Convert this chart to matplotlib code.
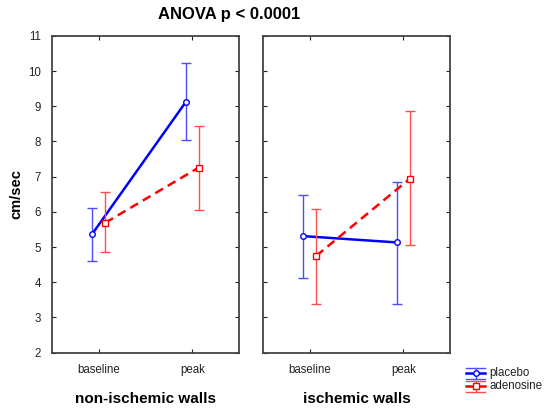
import matplotlib
matplotlib.use("Agg")
import matplotlib.pyplot as plt
import numpy as np

# group means and error bar limits (cm/sec)
phases = ["baseline", "peak"]
walls = ["non-ischemic walls", "ischemic walls"]

placebo_mean = [[5.37, 9.12], [5.31, 5.13]]
placebo_lo = [[4.60, 8.03], [4.12, 3.38]]
placebo_hi = [[6.10, 10.24], [6.48, 6.86]]

adeno_mean = [[5.69, 7.26], [4.75, 6.94]]
adeno_lo = [[4.86, 6.05], [3.39, 5.06]]
adeno_hi = [[6.57, 8.45], [6.09, 8.86]]

plt.rcParams['font.family'] = ['Liberation Sans', 'DejaVu Sans']

fig = plt.figure(figsize=(5.44, 4.11), dpi=100)
W, H = 544, 411
boxes = [(52, 36, 187, 316.5), (263, 36, 187, 316.5)]

blue, red = '#0000ff', '#ff0000'
blue_e, red_e = (0.3, 0.3, 1.0), (1.0, 0.3, 0.3)

x = np.arange(len(phases))
off = 0.07
axes = []
for k, (px, py, pw, ph) in enumerate(boxes):
    ax = fig.add_axes([px / W, 1 - (py + ph) / H, pw / W, ph / H])
    axes.append(ax)
    m = np.array(placebo_mean[k])
    ax.errorbar(x - off, m, yerr=[m - np.array(placebo_lo[k]), np.array(placebo_hi[k]) - m],
                fmt='none', ecolor=blue_e, elinewidth=1, capsize=3.3, capthick=1)
    ax.plot(x - off, m, '-', color=blue, lw=1.8, marker='o', ms=4,
            mfc='white', mec=blue, mew=1, label='placebo')
    a = np.array(adeno_mean[k])
    ax.errorbar(x + off, a, yerr=[a - np.array(adeno_lo[k]), np.array(adeno_hi[k]) - a],
                fmt='none', ecolor=red_e, elinewidth=1, capsize=3.3, capthick=1)
    ax.plot(x + off, a, '--', color=red, lw=1.8, marker='s', ms=4,
            mfc='white', mec=red, mew=1, dashes=(3.6, 2.2), label='adenosine')

    ax.set_xlim(-0.5, 1.5)
    ax.set_ylim(2, 11)
    ax.set_xticks(x)
    ax.set_xticklabels(phases)
    ax.set_yticks(range(2, 12))
    ax.tick_params(direction='in', top=True, right=True, length=3, width=0.8,
                   labelsize=8.3, colors='#222222', pad=8)
    for s in ax.spines.values():
        s.set_color('#444444')
        s.set_linewidth(1.3)
    ax.set_xlabel(walls[k], fontsize=11, fontweight='bold', labelpad=12)

axes[1].tick_params(labelleft=False)
axes[0].set_ylabel("cm/sec", fontsize=10.5, fontweight='bold', labelpad=3)

fig.text(229 / W, 1 - 15 / H, "ANOVA p < 0.0001", ha='center', va='center',
         fontsize=12, fontweight='bold')

# legend with error bar glyphs
lx = 466 / W
gw = 19 / W
rows = [("placebo", blue, blue_e, 'o', 373), ("adenosine", red, red_e, 's', 386)]
for lab, c, ec, mk, ypx in rows:
    yy = 1 - ypx / H
    for dyp in (5.5, -5.5):
        fig.lines.append(plt.Line2D([lx, lx + gw], [yy + dyp / H] * 2, color=ec, lw=1,
                                    transform=fig.transFigure))
    fig.lines.append(plt.Line2D([lx + gw / 2] * 2, [yy - 5.5 / H, yy + 5.5 / H], color=ec,
                                lw=1, transform=fig.transFigure))
    fig.lines.append(plt.Line2D([lx, lx + gw], [yy, yy], color=c, lw=1.8,
                                transform=fig.transFigure))
    fig.lines.append(plt.Line2D([lx + gw / 2], [yy], marker=mk, ms=4, mfc='white',
                                mec=c, mew=1, transform=fig.transFigure))
    fig.text(489 / W, yy, lab, va='center', ha='left', fontsize=8.3, color='#222222')

fig.savefig("out.png", dpi=100)
